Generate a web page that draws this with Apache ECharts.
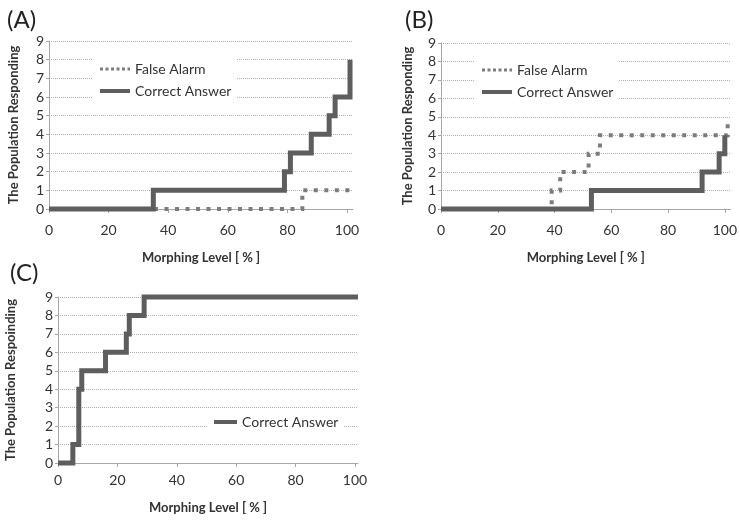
<!DOCTYPE html>
<html>
<head>
<meta charset="utf-8">
<script src="https://cdn.jsdelivr.net/npm/echarts@6/dist/echarts.min.js"></script>
<style>
  html, body { margin: 0; padding: 0; background: #fff; }
  #chart { width: 740px; height: 520px; }
</style>
</head>
<body>
<div id="chart"></div>
<script>
// tick values
const xTicks = [0, 20, 40, 60, 80, 100]
const yTicks = [0, 1, 2, 3, 4, 5, 6, 7, 8, 9]

// step points [morphing level, population], drawn with step: 'end'
const falseAlarmA = [[0, 0], [85, 1], [101, 1]]
const correctA = [[0, 0], [35, 1], [79, 2], [81, 3], [88, 4], [94, 5], [96, 6], [101, 8]]
const falseAlarmB = [[0, 0], [39, 1], [42, 2], [52, 3], [56, 4], [101, 4.6]]
const correctB = [[0, 0], [53, 1], [92, 2], [98, 3], [100, 4]]
const correctC = [[0, 0], [5, 1], [7, 4], [8, 5], [16, 6], [23, 7], [24, 8], [29, 9], [101, 9]]

const FONT = 'Lato'
const solidColor = '#5e5e5e'
const dotColor = '#7c7c7c'

// 建一个 x 轴
function makeX(grid, max, nameGap, labelMargin) {
  return {
    type: 'value', gridIndex: grid, min: 0, max: max, interval: 20,
    name: 'Morphing Level [ % ]', nameLocation: 'middle', nameGap: nameGap,
    nameTextStyle: { fontWeight: 'bold', fontSize: 13, color: '#333', fontFamily: FONT },
    axisLine: { show: true, lineStyle: { color: '#a6a6a6', width: 1 } },
    axisTick: { show: true, length: 4, customValues: xTicks, lineStyle: { color: '#a6a6a6' } },
    axisLabel: { customValues: xTicks, fontSize: 14, color: '#333', margin: labelMargin, fontFamily: FONT },
    splitLine: { show: false }
  }
}

function makeY(grid, name, nameGap) {
  return {
    type: 'value', gridIndex: grid, min: 0, max: 9, interval: 1,
    name: name, nameLocation: 'middle', nameGap: nameGap,
    nameTextStyle: { fontWeight: 'bold', fontSize: 13, color: '#333', fontFamily: FONT },
    axisLine: { show: true, lineStyle: { color: '#a6a6a6', width: 1 } },
    axisTick: { show: true, length: 3, lineStyle: { color: '#a6a6a6' } },
    axisLabel: { customValues: yTicks, fontSize: 14, color: '#333', margin: 5, fontFamily: FONT },
    splitLine: { show: true, lineStyle: { color: '#b0b0b0', type: [1, 1], width: 1 } }
  }
}

function dotted(name, idx, data) {
  return {
    name: name, type: 'line', step: 'end', xAxisIndex: idx, yAxisIndex: idx,
    data: data, symbol: 'none', z: 3, clip: false,
    lineStyle: { color: dotColor, width: 4, type: [4, 6.5], cap: 'butt', join: 'miter' },
    itemStyle: { color: dotColor }
  }
}

function solid(name, idx, data) {
  return {
    name: name, type: 'line', step: 'end', xAxisIndex: idx, yAxisIndex: idx,
    data: data, symbol: 'none', z: 4, clip: false,
    lineStyle: { color: solidColor, width: 5, cap: 'butt', join: 'miter' },
    itemStyle: { color: solidColor }
  }
}

const legendFA = { name: 'False Alarm', lineStyle: { color: dotColor, width: 3, type: [3, 2.5] } }
const legendCA = { name: 'Correct Answer', lineStyle: { color: solidColor, width: 4, type: 'solid' } }

function makeLegend(left, top, items, w) {
  return {
    left: left, top: top, orient: 'vertical',
    data: items, itemWidth: w, itemHeight: 14, itemGap: 8,
    padding: [5, 5, 5, 5], backgroundColor: '#fff',
    selectedMode: false,
    itemStyle: { opacity: 0 },
    textStyle: { fontSize: 14, color: '#333', fontFamily: FONT }
  }
}

const chart = echarts.init(document.getElementById('chart'), null, { renderer: 'canvas' })

const option = {
  animation: false,
  backgroundColor: '#fff',
  textStyle: { fontFamily: FONT },
  title: [
    { text: '(A)', left: 2, top: 3, textStyle: { fontSize: 24, fontWeight: 'normal', color: '#222', fontFamily: FONT } },
    { text: '(B)', left: 400, top: 3, textStyle: { fontSize: 24, fontWeight: 'normal', color: '#222', fontFamily: FONT } },
    { text: '(C)', left: 5, top: 256, textStyle: { fontSize: 24, fontWeight: 'normal', color: '#222', fontFamily: FONT } }
  ],
  grid: [
    { left: 49, right: 387, top: 41, bottom: 311 },
    { left: 441, right: 6, top: 43, bottom: 311 },
    { left: 58, right: 382, top: 297, bottom: 57 }
  ],
  xAxis: [makeX(0, 102, 42, 14), makeX(1, 102, 42, 14), makeX(2, 101, 38, 10)],
  yAxis: [
    makeY(0, 'The Population Responding', 29),
    makeY(1, 'The Population Responding', 27),
    makeY(2, 'The Population Respoinding', 41)
  ],
  legend: [
    makeLegend(93, 57, [legendFA, legendCA], 30),
    makeLegend(475, 58, [legendFA, legendCA], 30),
    makeLegend(207, 410, [legendCA], 23)
  ],
  series: [
    dotted('False Alarm', 0, falseAlarmA),
    solid('Correct Answer', 0, correctA),
    dotted('False Alarm', 1, falseAlarmB),
    solid('Correct Answer', 1, correctB),
    solid('Correct Answer', 2, correctC)
  ]
}

chart.setOption(option)
</script>
</body>
</html>
